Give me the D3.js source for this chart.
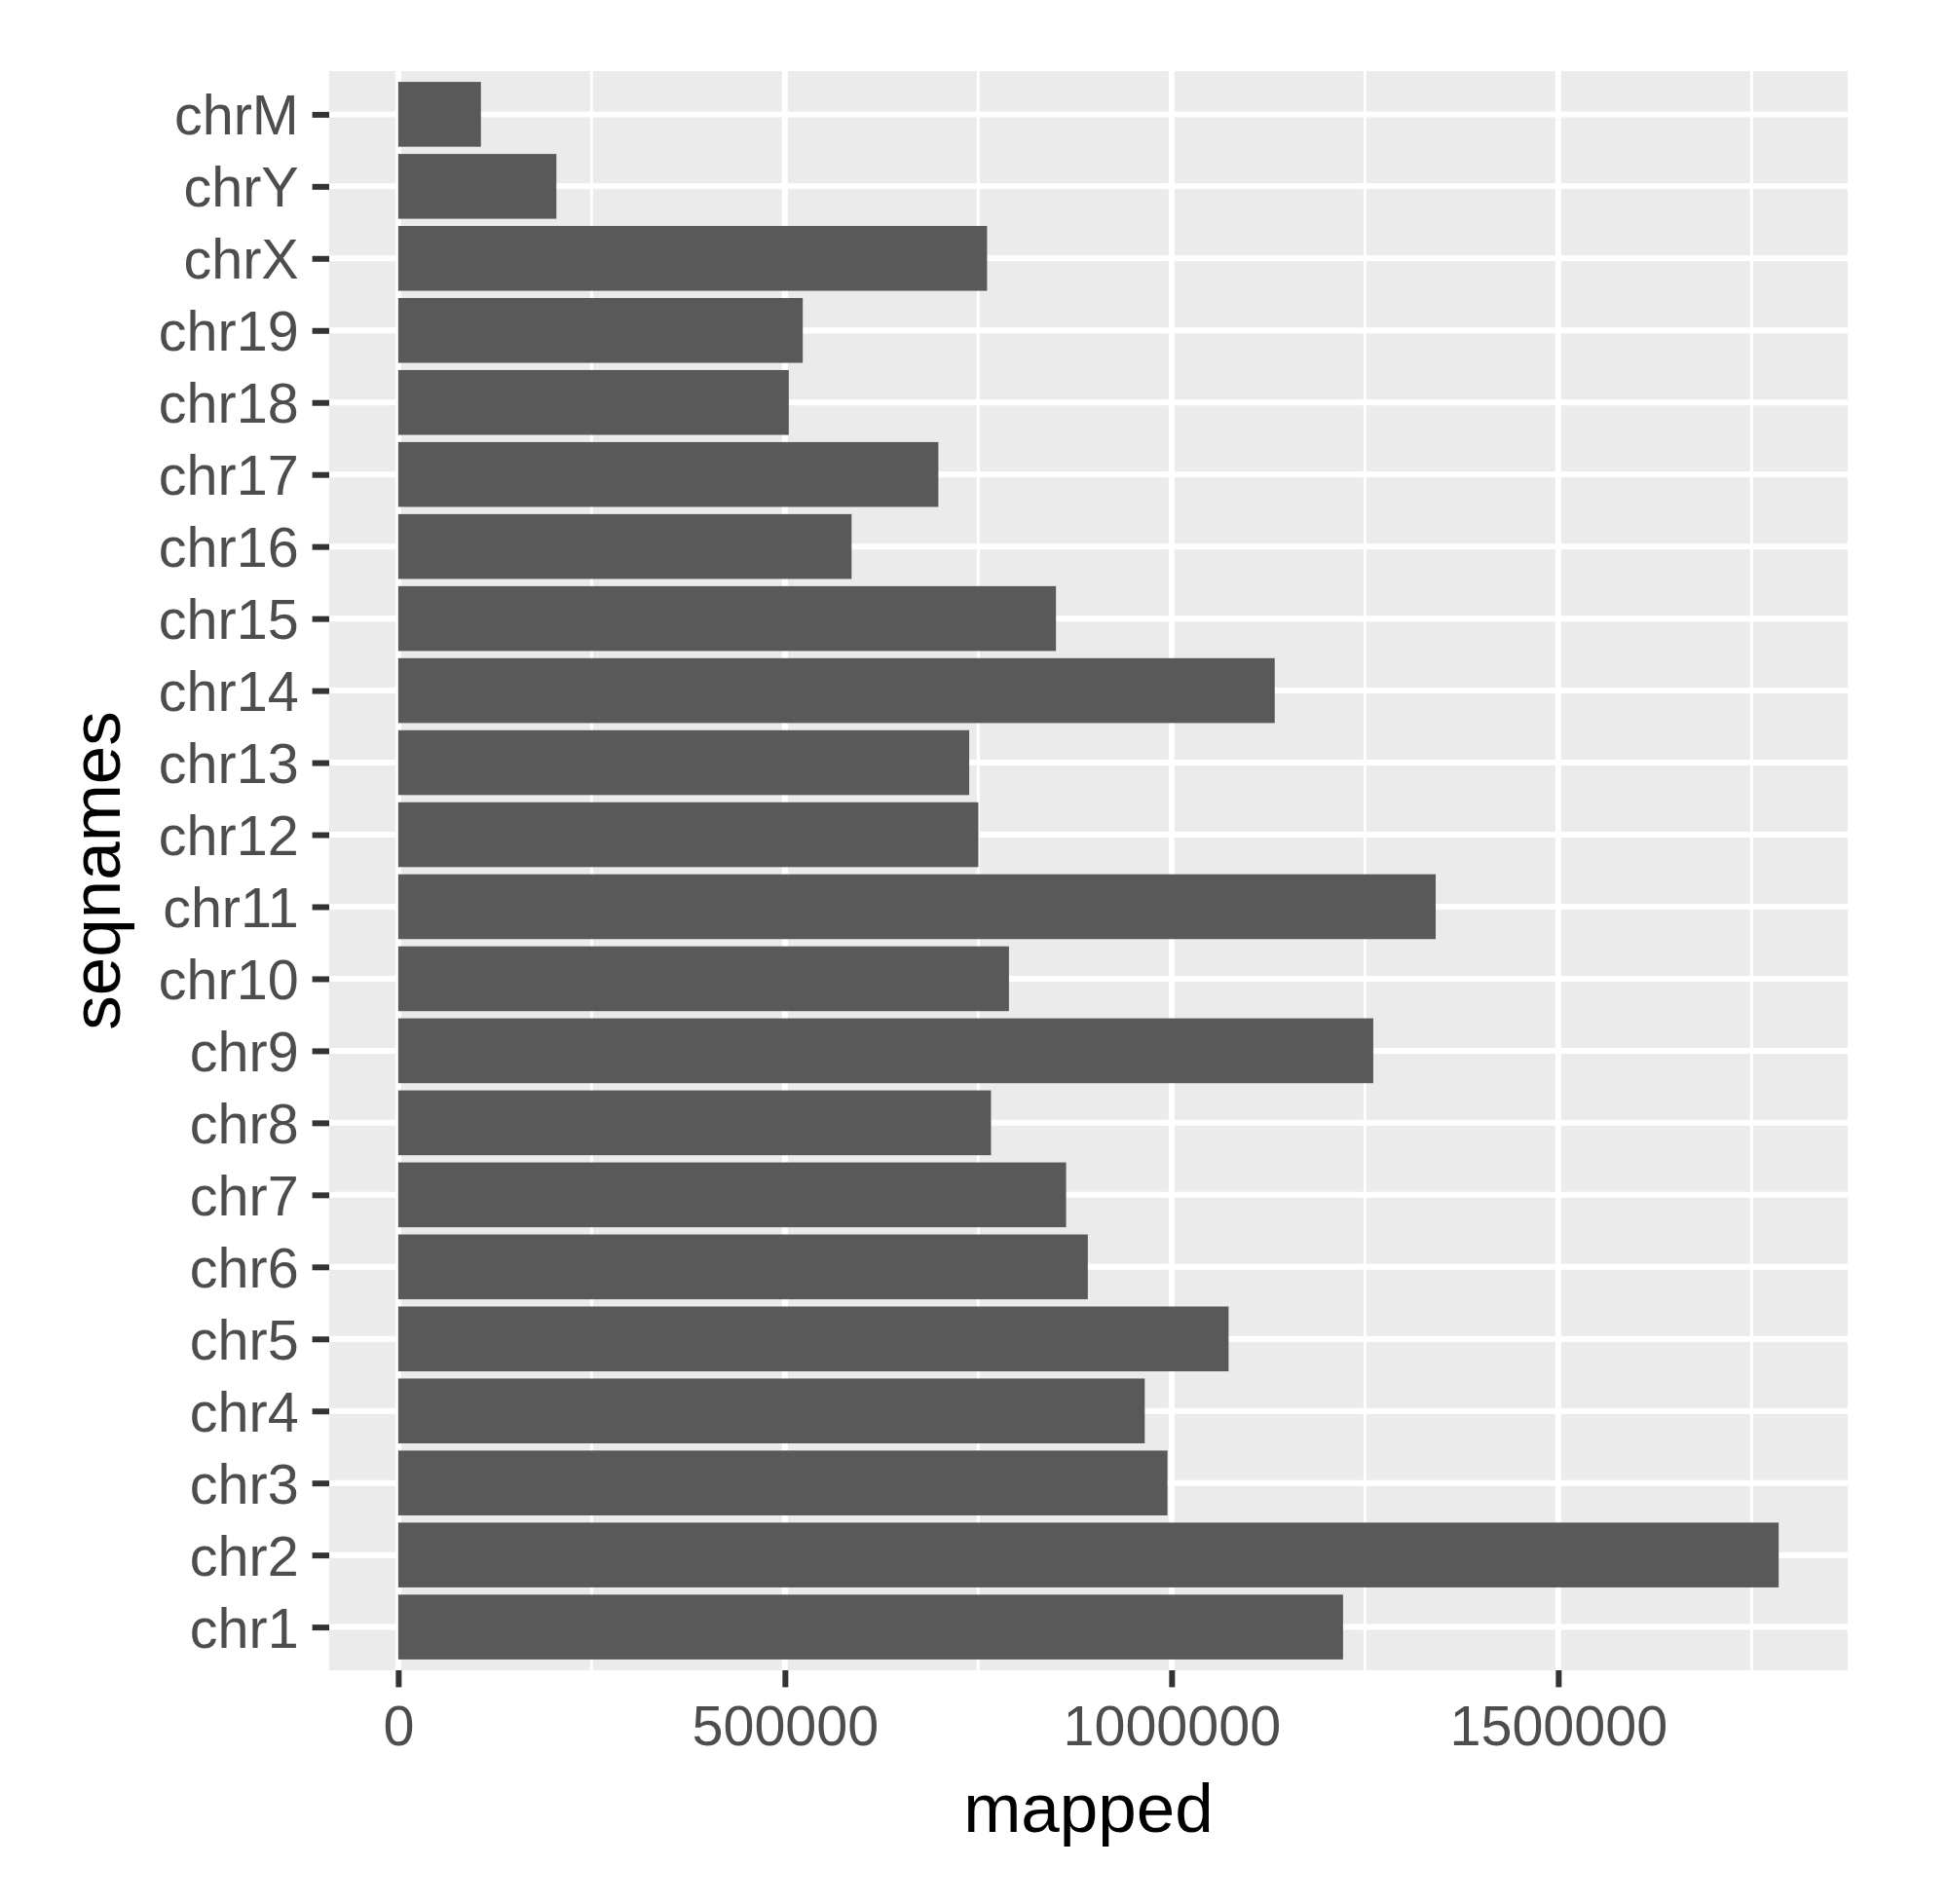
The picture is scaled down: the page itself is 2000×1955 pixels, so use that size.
<!DOCTYPE html>
<html>
<head>
<meta charset="utf-8">
<script src="https://cdn.jsdelivr.net/npm/d3@7"></script>
<style>
  html, body { margin: 0; padding: 0; background: #ffffff; }
  svg { display: block; }
</style>
</head>
<body>
<svg id="chart" width="2000" height="1955"></svg>
<script>
// Categories listed bottom to top (as in the chart)
const seqnames = ["chr1","chr2","chr3","chr4","chr5","chr6","chr7","chr8","chr9","chr10",
                  "chr11","chr12","chr13","chr14","chr15","chr16","chr17","chr18","chr19",
                  "chrX","chrY","chrM"];
const mapped = [1221700, 1785000, 994700, 965300, 1073700, 891700, 863600, 766500, 1260800, 789700,
                1341500, 750100, 738300, 1133400, 850500, 586200, 698400, 505000, 523100,
                761400, 204500, 106900];
const xTicks = [0, 500000, 1000000, 1500000];
const xMinorTicks = [250000, 750000, 1250000, 1750000];
const xTitle = "mapped";
const yTitle = "seqnames";

const svg = d3.select("#chart");
const panel = { left: 338, right: 1897, top: 73, bottom: 1715 };
const fsTick = 57.5, fsTitle = 71;
const font = "'Liberation Sans', Arial, Helvetica, sans-serif";

const maxV = d3.max(mapped);
const x = d3.scaleLinear()
  .domain([-0.05 * maxV, 1.05 * maxV])
  .range([panel.left, panel.right]);

// discrete scale with 0.6 expansion on each side
const n = seqnames.length;
const unit = (panel.bottom - panel.top) / (n - 1 + 1.2);
const yIdx = d3.scaleLinear().domain([-0.6, n - 1 + 0.6]).range([panel.bottom, panel.top]);
const yc = name => yIdx(seqnames.indexOf(name));

// panel background
svg.append("rect")
  .attr("x", panel.left).attr("y", panel.top)
  .attr("width", panel.right - panel.left).attr("height", panel.bottom - panel.top)
  .attr("fill", "#EBEBEB");

const grid = svg.append("g");
grid.selectAll("line.minor").data(xMinorTicks).enter().append("line")
  .attr("x1", d => x(d)).attr("x2", d => x(d))
  .attr("y1", panel.top).attr("y2", panel.bottom)
  .attr("stroke", "#ffffff").attr("stroke-width", 3);
grid.selectAll("line.majx").data(xTicks).enter().append("line")
  .attr("x1", d => x(d)).attr("x2", d => x(d))
  .attr("y1", panel.top).attr("y2", panel.bottom)
  .attr("stroke", "#ffffff").attr("stroke-width", 6);
grid.selectAll("line.majy").data(seqnames).enter().append("line")
  .attr("x1", panel.left).attr("x2", panel.right)
  .attr("y1", d => yc(d)).attr("y2", d => yc(d))
  .attr("stroke", "#ffffff").attr("stroke-width", 6);

// bars
const barH = unit * 0.9;
svg.append("g").selectAll("rect").data(seqnames).enter().append("rect")
  .attr("x", x(0))
  .attr("y", d => yc(d) - barH / 2)
  .attr("width", (d, i) => x(mapped[i]) - x(0))
  .attr("height", barH)
  .attr("fill", "#595959");

// axes
const tickLen = 17.4, tickPad = 13.9;
const xAxis = d3.axisBottom(x).tickValues(xTicks).tickFormat(d3.format("d"))
  .tickSize(tickLen).tickPadding(tickPad);
const gx = svg.append("g").attr("transform", `translate(0,${panel.bottom})`).call(xAxis);
gx.select(".domain").remove();
gx.selectAll(".tick line").attr("stroke", "#333333").attr("stroke-width", 6);
gx.selectAll(".tick text")
  .attr("fill", "#4D4D4D")
  .style("font-family", font)
  .style("font-size", fsTick + "px")
  .attr("dy", null)
  .attr("y", tickLen + tickPad + fsTick * 0.8);

const yBand = d3.scalePoint().domain(seqnames).range([yIdx(0), yIdx(n - 1)]);
const yAxis = d3.axisLeft(yBand).tickSize(tickLen).tickPadding(tickPad);
const gy = svg.append("g").attr("transform", `translate(${panel.left},0)`).call(yAxis);
gy.select(".domain").remove();
gy.selectAll(".tick line").attr("stroke", "#333333").attr("stroke-width", 6);
gy.selectAll(".tick text")
  .attr("fill", "#4D4D4D")
  .style("font-family", font)
  .style("font-size", fsTick + "px")
  .attr("dy", null)
  .attr("y", fsTick * 0.358);

// titles
svg.append("text")
  .attr("x", (panel.left + panel.right) / 2).attr("y", 1881)
  .attr("text-anchor", "middle")
  .style("font-family", font)
  .style("font-size", fsTitle + "px")
  .attr("fill", "#000000")
  .text(xTitle);

svg.append("text")
  .attr("transform", `translate(123,${(panel.top + panel.bottom) / 2}) rotate(-90)`)
  .attr("text-anchor", "middle")
  .style("font-family", font)
  .style("font-size", fsTitle + "px")
  .attr("fill", "#000000")
  .text(yTitle);
</script>
</body>
</html>
